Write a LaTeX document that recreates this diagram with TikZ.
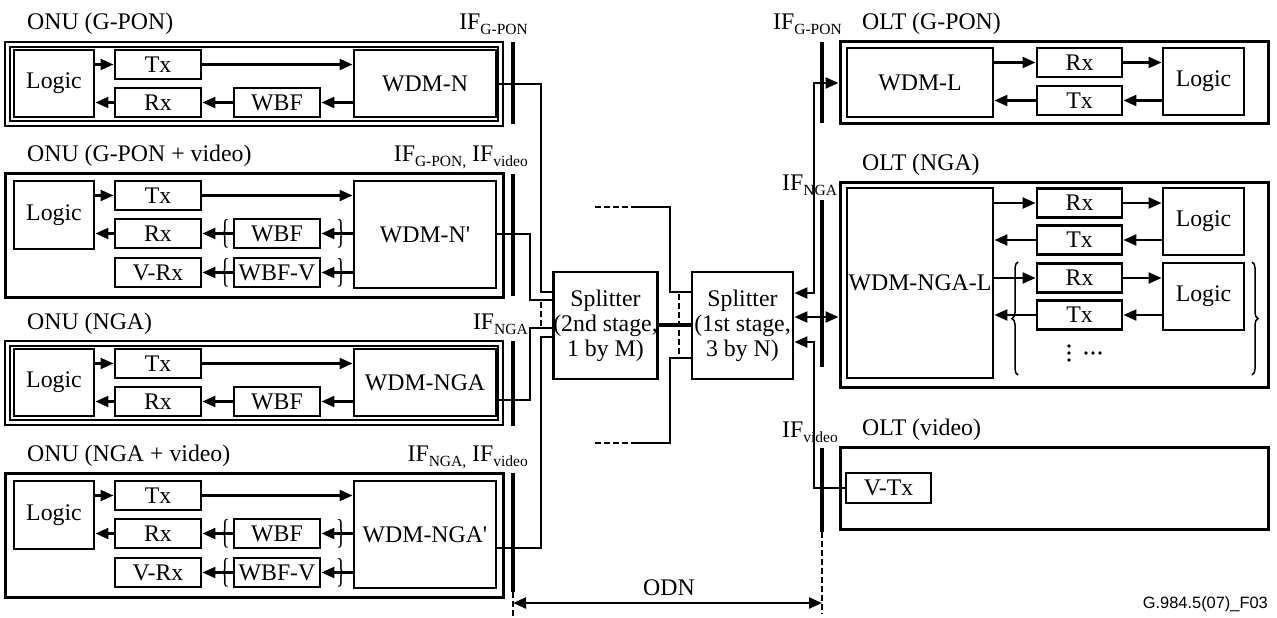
\documentclass[tikz,border=0pt]{standalone}
\usepackage{fontspec}
\usepackage{graphicx}
\setmainfont{Liberation Serif}
\newfontfamily\figsans{Liberation Sans}
\usetikzlibrary{arrows.meta,decorations.pathreplacing}
\newcommand\lowsub[1]{\raisebox{-5pt}{\fontsize{15.5}{15.5}\selectfont #1}}
\newcommand\lbr{\scalebox{0.85}[1.45]{\{}}
\newcommand\rbr{\scalebox{0.85}[1.45]{\}}}
\begin{document}
\begin{tikzpicture}[x=1pt,y=-1pt,
  every node/.style={inner sep=0pt,font=\fontsize{23.8}{25}\selectfont},
  box/.style={draw,line width=2.9pt,align=center},
  sbox/.style={box,minimum width=86pt,minimum height=29pt},
  lgbox/.style={box,minimum width=80pt,minimum height=67pt},
  wdmbox/.style={box,minimum width=142pt,minimum height=67pt},
  sfrm/.style={draw,line width=3pt},
  dfrm/.style={draw,line width=2.6pt,double,double distance=2.2pt},
  conn/.style={line width=2.2pt},
  atip/.tip={Triangle[length=13pt,width=11pt]},
  arr/.style={conn,-atip},
  darr/.style={conn,atip-atip},
  ifbar/.style={line width=4.2pt},
  dsh/.style={conn,dash pattern=on 6pt off 3pt},
  lbl/.style={anchor=base west},
  lblr/.style={anchor=base east},
  brc/.style={inner sep=0pt},
  bigbrace/.style={line width=1.5pt,decorate,decoration={brace,amplitude=6pt}},
  dot/.style={fill,circle,inner sep=0pt,minimum size=3.6pt},
]
\useasboundingbox (0,0) rectangle (1277,618);
\fill[white] (0,0) rectangle (1277,618);

% ================= ONU (G-PON) =================
\node[lbl] (onu1l) at (27,30) {ONU (G-PON)};
\node[dfrm,minimum width=493pt,minimum height=79pt] (onu1) at (254,84) {};
\node[lgbox] (lg1) at (54,83.5) {Logic};
\node[sbox] (tx1) at (158,64.5) {Tx};
\node[sbox] (rx1) at (158,102.5) {Rx};
\node[sbox] (wbf1) at (277,102.5) {WBF};
\node[wdmbox] (wdm1) at (425,83.5) {WDM-N};
\draw[arr] (lg1.east |- tx1) -- (tx1);
\draw[arr] (tx1) -- (wdm1.west |- tx1);
\draw[arr] (wdm1.west |- wbf1) -- (wbf1);
\draw[arr] (wbf1) -- (rx1);
\draw[arr] (rx1) -- (lg1.east |- rx1);
\draw[ifbar] (513,42) -- (513,124);
\node[lblr] (if1) at (528,30) {IF\lowsub{G-PON}};

% ================= ONU (G-PON + video) =================
\node[lbl] (onu2l) at (27,161) {ONU (G-PON + video)};
\node[sfrm,minimum width=498pt,minimum height=124pt] (onu2) at (254,235) {};
\node[lgbox,minimum height=68pt] (lg2) at (54,215) {Logic};
\node[sbox] (tx2) at (158,195.5) {Tx};
\node[sbox] (rx2) at (158,233.5) {Rx};
\node[sbox] (vrx2) at (158,272.5) {V-Rx};
\node[sbox] (wbf2) at (277,233.5) {WBF};
\node[sbox] (wbfv2) at (277,272.5) {WBF-V};
\node[wdmbox,minimum height=107pt] (wdm2) at (425,234.5) {WDM-N\textquotesingle};
\node[brc] (br2a) at (341,233.5) {\rbr};
\node[brc] (br2b) at (225,233.5) {\lbr};
\node[brc] (br2c) at (341,272.5) {\rbr};
\node[brc] (br2d) at (225,272.5) {\lbr};
\draw[arr] (lg2.east |- tx2) -- (tx2);
\draw[arr] (tx2) -- (wdm2.west |- tx2);
\draw[arr] (wdm2.west |- wbf2) -- (wbf2);
\draw[arr] (wbf2) -- (rx2);
\draw[arr] (rx2) -- (lg2.east |- rx2);
\draw[arr] (wdm2.west |- wbfv2) -- (wbfv2);
\draw[arr] (wbfv2) -- (vrx2);
\draw[ifbar] (513,174) -- (513,296);
\node[lblr] (if2) at (528,161) {IF\lowsub{G-PON,} IF\lowsub{video}};

% ================= ONU (NGA) =================
\node[lbl] (onu3l) at (27,329) {ONU (NGA)};
\node[dfrm,minimum width=493pt,minimum height=79pt] (onu3) at (254,383) {};
\node[lgbox] (lg3) at (54,382.5) {Logic};
\node[sbox] (tx3) at (158,363.5) {Tx};
\node[sbox] (rx3) at (158,401.5) {Rx};
\node[sbox] (wbf3) at (277,401.5) {WBF};
\node[wdmbox] (wdm3) at (425,382.5) {WDM-NGA};
\draw[arr] (lg3.east |- tx3) -- (tx3);
\draw[arr] (tx3) -- (wdm3.west |- tx3);
\draw[arr] (wdm3.west |- wbf3) -- (wbf3);
\draw[arr] (wbf3) -- (rx3);
\draw[arr] (rx3) -- (lg3.east |- rx3);
\draw[ifbar] (513,341) -- (513,426);
\node[lblr] (if3) at (528,329) {IF\lowsub{NGA}};

% ================= ONU (NGA + video) =================
\node[lbl] (onu4l) at (27,461) {ONU (NGA + video)};
\node[sfrm,minimum width=498pt,minimum height=124pt] (onu4) at (254,535) {};
\node[lgbox,minimum height=68pt] (lg4) at (54,515) {Logic};
\node[sbox] (tx4) at (158,495.5) {Tx};
\node[sbox] (rx4) at (158,533.5) {Rx};
\node[sbox] (vrx4) at (158,572.5) {V-Rx};
\node[sbox] (wbf4) at (277,533.5) {WBF};
\node[sbox] (wbfv4) at (277,572.5) {WBF-V};
\node[wdmbox,minimum height=107pt] (wdm4) at (425,534.5) {WDM-NGA\textquotesingle};
\node[brc] (br4a) at (341,533.5) {\rbr};
\node[brc] (br4b) at (225,533.5) {\lbr};
\node[brc] (br4c) at (341,572.5) {\rbr};
\node[brc] (br4d) at (225,572.5) {\lbr};
\draw[arr] (lg4.east |- tx4) -- (tx4);
\draw[arr] (tx4) -- (wdm4.west |- tx4);
\draw[arr] (wdm4.west |- wbf4) -- (wbf4);
\draw[arr] (wbf4) -- (rx4);
\draw[arr] (rx4) -- (lg4.east |- rx4);
\draw[arr] (wdm4.west |- wbfv4) -- (wbfv4);
\draw[arr] (wbfv4) -- (vrx4);
\draw[ifbar] (513,473) -- (513,592);
\draw[dsh] (513,592) -- (513,616);
\node[lblr] (if4) at (528,461) {IF\lowsub{NGA,} IF\lowsub{video}};

% ================= Splitters =================
\node[box,minimum width=101pt,minimum height=107pt] (sp2) at (605.5,325.5) {Splitter\\(2nd stage,\\1 by M)};
\node[box,minimum width=101pt,minimum height=107pt] (sp1) at (742.5,325.5) {Splitter\\(1st stage,\\3 by N)};

\coordinate (b1) at (541,292);
\coordinate (b2) at (530,300);
\coordinate (b3) at (530,328);
\coordinate (b4) at (541,337);
\draw[conn] (wdm1.east |- 0,84) -| (b1) -- (sp2.west |- b1);
\draw[conn] (wdm2.east |- 0,234) -| (b2) -- (sp2.west |- b2);
\draw[conn] (wdm3.east |- 0,400) -| (b3) -- (sp2.west |- b3);
\draw[conn] (wdm4.east |- 0,548) -| (b4) -- (sp2.west |- b4);
\draw[dsh] (541,302) -- (541,327);

\draw[line width=4.2pt] (sp2.east |- 0,325) -- (sp1.west |- 0,325);

\coordinate (u1) at (670,207);
\coordinate (u2) at (637,207);
\coordinate (u3) at (593,207);
\coordinate (d1) at (670,443);
\coordinate (d2) at (637,443);
\coordinate (d3) at (593,443);
\draw[conn] (sp1.west |- 0,292) -| (u1) -- (u2);
\draw[dsh] (u2) -- (u3);
\draw[conn] (sp1.west |- 0,358) -| (d1) -- (d2);
\draw[dsh] (d2) -- (d3);
\draw[dsh] (679,294) -- (679,357);

% ================= OLT (G-PON) =================
\node[lbl] (olt1l) at (862,30) {OLT (G-PON)};
\node[sfrm,minimum width=428pt,minimum height=81pt] (olt1) at (1054,82.5) {};
\node[box,minimum width=146pt,minimum height=69pt] (wdml) at (920,82.5) {WDM-L};
\node[sbox,minimum width=85pt] (rxo1) at (1079.5,62.5) {Rx};
\node[sbox,minimum width=85pt] (txo1) at (1079.5,100.5) {Tx};
\node[lgbox,minimum width=81pt] (lgo1) at (1203.5,81.5) {Logic};
\draw[arr] (wdml.east |- rxo1) -- (rxo1);
\draw[arr] (rxo1) -- (lgo1.west |- rxo1);
\draw[arr] (lgo1.west |- txo1) -- (txo1);
\draw[arr] (txo1) -- (wdml.east |- txo1);
\draw[ifbar] (822,42) -- (822,123);
\node[lbl] (if5) at (773,30) {IF\lowsub{G-PON}};

% ================= OLT (NGA) =================
\node[lbl] (olt2l) at (862,170) {OLT (NGA)};
\node[sfrm,minimum width=428pt,minimum height=205pt] (olt2) at (1054,284.5) {};
\node[box,minimum width=146pt,minimum height=190pt] (wdmnl) at (920,283) {WDM-NGA-L};
\node[sbox,minimum width=85pt] (rxa) at (1079.5,203) {Rx};
\node[sbox,minimum width=85pt] (txa) at (1079.5,240) {Tx};
\node[lgbox,minimum width=81pt] (lga) at (1203.5,221.5) {Logic};
\node[sbox,minimum width=85pt] (rxb) at (1079.5,278) {Rx};
\node[sbox,minimum width=85pt] (txb) at (1079.5,315) {Tx};
\node[lgbox,minimum width=81pt] (lgb) at (1203.5,296.5) {Logic};
\draw[arr] (wdmnl.east |- rxa) -- (rxa);
\draw[arr] (rxa) -- (lga.west |- rxa);
\draw[arr] (lga.west |- txa) -- (txa);
\draw[arr] (txa) -- (wdmnl.east |- txa);
\draw[arr] (wdmnl.east |- rxb) -- (rxb);
\draw[arr] (rxb) -- (lgb.west |- rxb);
\draw[arr] (lgb.west |- txb) -- (txb);
\draw[arr] (txb) -- (wdmnl.east |- txb);
\draw[bigbrace] (1018,375) -- (1018,262);
\draw[bigbrace] (1252,262) -- (1252,375);
\node[dot] (vd1) at (1069,346) {};
\node[dot] (vd2) at (1069,353) {};
\node[dot] (vd3) at (1069,360) {};
\node[dot] (hd1) at (1086,353) {};
\node[dot] (hd2) at (1093,353) {};
\node[dot] (hd3) at (1100,353) {};
\draw[ifbar] (822,200) -- (822,367);
\node[lbl] (if6) at (782,190) {IF\lowsub{NGA}};

% ================= OLT (video) =================
\node[lbl] (olt3l) at (862,435) {OLT (video)};
\node[sfrm,minimum width=428pt,minimum height=82pt] (olt3) at (1054,488) {};
\node[sbox,minimum width=85pt,minimum height=30pt] (vtx) at (888.5,488) {V-Tx};
\draw[ifbar] (822,448) -- (822,532);
\draw[dsh] (822,532) -- (822,614);
\node[lbl] (if7) at (782,437) {IF\lowsub{video}};

% ================= OLT side connections =================
\coordinate (v1) at (814,83);
\coordinate (v2) at (814,342);
\draw[darr] (sp1.east |- 0,293) -| (v1) -- (olt1.west |- v1);
\draw[darr] (sp1.east |- 0,317) -- (olt2.west |- 0,317);
\draw[arr] (vtx.west) -| (v2) -- (sp1.east |- v2);

% ================= ODN =================
\coordinate (odnl) at (513,603);
\coordinate (odnr) at (822,603);
\draw[darr] (odnl) -- (odnr);
\node[anchor=base] (odn) at (669,595) {ODN};

\node[anchor=base east,font=\figsans\fontsize{16.4}{18}\selectfont] (fig) at (1268,608) {G.984.5(07)\_F03};
\end{tikzpicture}
\end{document}
